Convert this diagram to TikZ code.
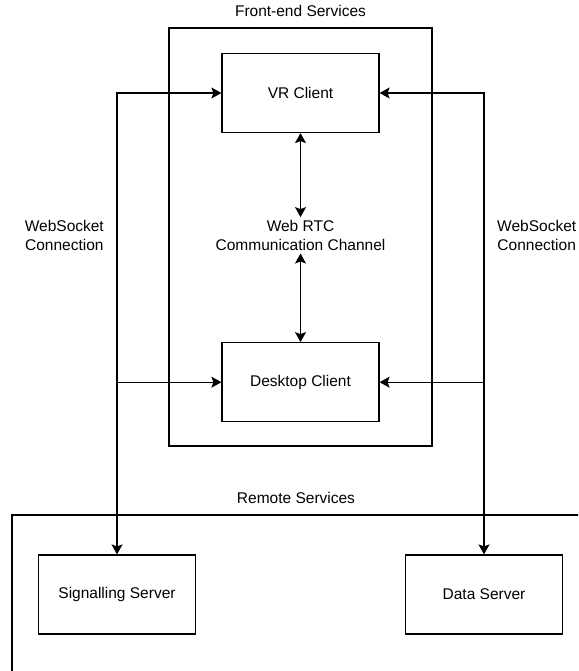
\documentclass[tikz,border=0pt]{standalone}
\usepackage{fontspec}
\setmainfont{Liberation Sans}
\usetikzlibrary{positioning,arrows.meta}
\tikzset{
  blk/.style   ={draw, rectangle, align=center, minimum width=157pt, minimum height=79pt, line width=1.2pt},
  grp/.style   ={draw, rectangle, line width=1.2pt},
  lbl/.style   ={align=center, inner sep=0pt},
  arr/.style   ={-{Stealth[length=10pt,width=11pt,inset=2pt]}, line width=1.2pt},
  biarr/.style ={{Stealth[length=10pt,width=11pt,inset=2pt]}-{Stealth[length=10pt,width=11pt,inset=2pt]}, line width=1.2pt},
}

\begin{document}
\begin{tikzpicture}[font=\fontsize{15.5}{18.6}\selectfont, x=1pt, y=1pt]
  \useasboundingbox (0,0) rectangle (578,-671);
  \clip (0,0) rectangle (578,-671);

  % service groups
  \node[grp, minimum width=263pt, minimum height=418pt] (fe) at (300.5,-237) {};
  \node[grp, minimum width=568pt, minimum height=185pt] (rs) at (296,-607.5) {};
  \node[lbl, above=11pt of fe] (feLbl) {Front-end Services};
  \node[lbl, above=11pt of rs] (rsLbl) {Remote Services};

  % clients and servers
  \node[blk] (vr) at (300.5,-93) {VR Client};
  \node[lbl, inner sep=3pt, below=84pt of vr] (rtc) {Web RTC \\ Communication Channel};
  \node[blk, below=209pt of vr] (desk) {Desktop Client};
  \node[blk] (sig) at (117,-594.5) {Signalling Server};
  \node[blk] (data) at (484,-594.5) {Data Server};

  \coordinate (lj) at (sig.north |- desk.west);
  \coordinate (rj) at (data.north |- desk.east);
  \coordinate (lmid) at (sig.north |- rtc);
  \coordinate (rmid) at (data.north |- rtc);
  \node[lbl, left=13pt of lmid] (wsl) {WebSocket \\ Connection};
  \node[lbl, right=13pt of rmid] (wsr) {WebSocket \\ Connection};

  \draw[biarr] (vr.west) -| (sig.north);
  \draw[biarr] (vr.east) -| (data.north);
  \draw[arr] (lj) -- (desk.west);
  \draw[arr] (rj) -- (desk.east);
  \draw[biarr] (vr) -- (rtc);
  \draw[biarr] (rtc) -- (desk);
\end{tikzpicture}
\end{document}
